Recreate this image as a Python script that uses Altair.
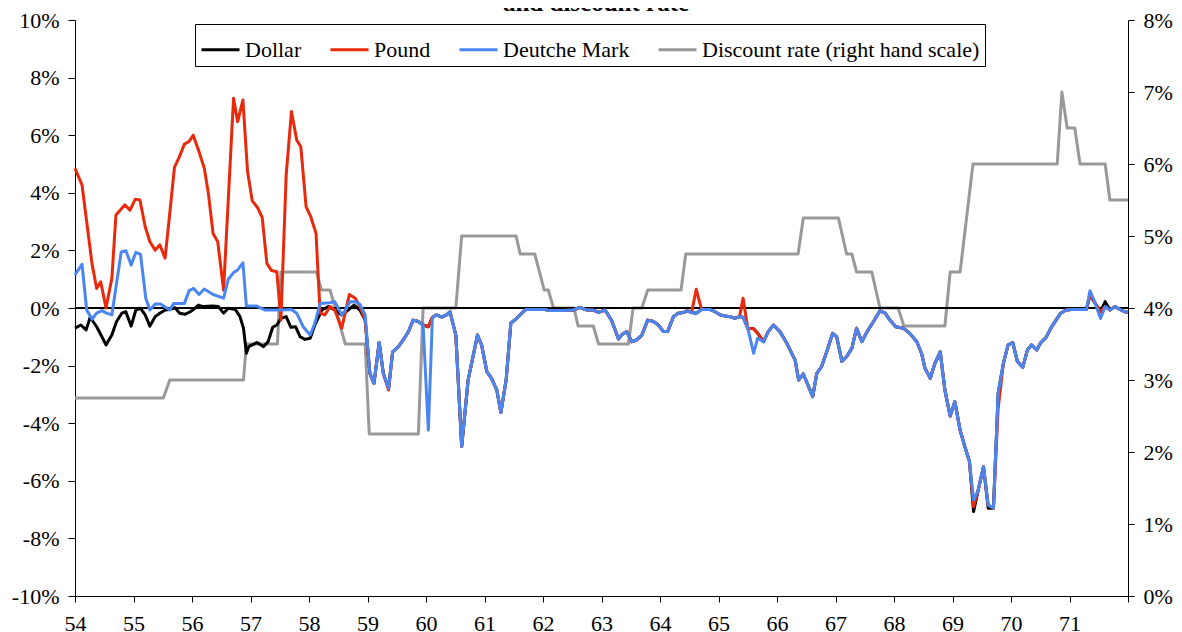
import altair as alt
import pandas as pd

SERIES = ["Dollar", "Pound", "Deutche Mark", "Discount rate (right hand scale)"]
COLORS = ["#000000", "#E8290B", "#4A86F2", "#999999"]

# ---- early period (1954-1958): the three currencies differ ----
dollar_early_t = [54.00, 54.10, 54.19, 54.26, 54.37, 54.46, 54.53, 54.63, 54.71, 54.80, 54.87, 54.96,
                  55.04, 55.12, 55.20, 55.28, 55.37, 55.45, 55.54, 55.62, 55.71, 55.79, 55.88, 55.97,
                  56.05, 56.11, 56.19, 56.36, 56.45, 56.54, 56.62, 56.74, 56.82, 56.88, 56.93, 56.97,
                  57.11, 57.22, 57.30, 57.38, 57.45, 57.52, 57.61, 57.69, 57.77, 57.85, 57.93, 58.02,
                  58.10, 58.22, 58.33, 58.44, 58.56, 58.67, 58.77, 58.87, 58.96]
dollar_early_v = [-0.70, -0.59, -0.76, -0.32, -0.65, -1.00, -1.28, -0.94, -0.47, -0.18, -0.13, -0.63,
                  -0.07, -0.01, -0.24, -0.63, -0.30, -0.18, -0.07, -0.05, 0.01, -0.18, -0.22, -0.13,
                  -0.01, 0.10, 0.05, 0.07, 0.05, -0.18, -0.01, -0.05, -0.30, -0.70, -1.57, -1.34,
                  -1.20, -1.34, -1.17, -0.67, -0.59, -0.36, -0.30, -0.67, -0.65, -1.00, -1.09, -1.05,
                  -0.59, -0.07, 0.05, -0.07, -0.24, -0.07, 0.10, -0.07, -0.42]

pound_early_t = [54.00, 54.12, 54.29, 54.37, 54.44, 54.53, 54.63, 54.70, 54.85, 54.94, 55.03, 55.11,
                 55.20, 55.28, 55.37, 55.45, 55.54, 55.62, 55.70, 55.78, 55.87, 55.95, 56.02, 56.11,
                 56.21, 56.28, 56.36, 56.44, 56.54, 56.71, 56.78, 56.87, 56.95, 57.03, 57.12, 57.20,
                 57.28, 57.36, 57.45, 57.52, 57.61, 57.70, 57.79, 57.86, 57.95, 58.03, 58.12, 58.19,
                 58.27, 58.36, 58.44, 58.56, 58.69, 58.79, 58.87, 58.96]
pound_early_v = [4.85, 4.27, 1.55, 0.68, 0.91, 0.00, 1.03, 3.23, 3.58, 3.40, 3.78, 3.75,
                 2.82, 2.30, 2.01, 2.19, 1.73, 3.29, 4.88, 5.23, 5.69, 5.78, 6.00, 5.49,
                 4.85, 3.98, 2.59, 2.30, 0.62, 7.28, 6.47, 7.22, 4.73, 3.72, 3.49, 3.15,
                 1.55, 1.30, 1.26, -0.42, 4.62, 6.82, 5.83, 5.60, 3.52, 3.17, 2.59, -0.18,
                 -0.24, 0.05, -0.07, -0.70, 0.47, 0.34, 0.05, -0.42]

dm_early_t = [54.00, 54.12, 54.20, 54.29, 54.37, 54.46, 54.54, 54.63, 54.79, 54.87, 54.96, 55.04,
              55.12, 55.21, 55.28, 55.37, 55.46, 55.62, 55.69, 55.87, 55.95, 56.03, 56.12, 56.21,
              56.36, 56.54, 56.62, 56.71, 56.78, 56.87, 56.93, 57.11, 57.16, 57.25, 57.53, 57.70,
              57.79, 57.90, 58.02, 58.10, 58.19, 58.36, 58.44, 58.56, 58.62, 58.70, 58.79, 58.87,
              58.96]
dm_early_v = [1.15, 1.52, -0.07, -0.39, -0.18, -0.09, -0.18, -0.24, 1.95, 1.99, 1.49, 1.93,
              1.86, 0.34, -0.07, 0.14, 0.14, -0.07, 0.16, 0.16, 0.60, 0.68, 0.47, 0.66,
              0.47, 0.34, 1.00, 1.23, 1.32, 1.57, 0.07, 0.07, 0.01, -0.07, -0.07, -0.05,
              -0.18, -0.65, -0.94, -0.53, 0.16, 0.18, 0.22, -0.24, -0.07, 0.22, 0.22, 0.13,
              -0.24]

# ---- 1959-1971: the three currencies almost coincide ----
common_t = [59.04, 59.11, 59.20, 59.27, 59.36, 59.43, 59.53, 59.61, 59.70, 59.78, 59.87, 59.95,
            60.04, 60.11, 60.18, 60.27, 60.35, 60.41, 60.51, 60.61, 60.72, 60.88, 60.95, 61.04,
            61.12, 61.21, 61.28, 61.37, 61.45, 61.55, 61.64, 61.71, 62.03, 62.12, 62.35, 62.52,
            62.63, 62.75, 62.86, 62.95, 63.06, 63.17, 63.29, 63.34, 63.43, 63.52, 63.60, 63.69,
            63.79, 63.89, 63.97, 64.06, 64.13, 64.23, 64.31, 64.40, 64.47, 64.54, 64.62, 64.71,
            64.85, 64.94, 65.03, 65.11, 65.20, 65.28, 65.36, 65.42, 65.50, 65.60, 65.67, 65.77,
            65.85, 65.94, 66.05, 66.17, 66.25, 66.31, 66.37, 66.45, 66.54, 66.61, 66.68, 66.76,
            66.85, 66.95, 67.02, 67.11, 67.19, 67.28, 67.36, 67.45, 67.54, 67.65, 67.76, 67.85,
            67.93, 68.03, 68.16, 68.27, 68.39, 68.47, 68.53, 68.62, 68.70, 68.79, 68.87, 68.96,
            69.04, 69.13, 69.21, 69.29, 69.36, 69.44, 69.53, 69.61, 69.70, 69.78, 69.87, 69.95,
            70.03, 70.11, 70.20, 70.28, 70.35, 70.44, 70.51, 70.60, 70.68, 70.77, 70.85, 70.94,
            71.04, 71.29, 71.35, 71.44, 71.53, 71.61, 71.69, 71.78, 71.86, 71.94, 72.00]
common_v = [-2.27, -2.62, -1.20, -2.27, -2.79, -1.52, -1.34, -1.11, -0.82, -0.42, -0.47, -0.59,
            -0.65, -0.32, -0.24, -0.32, -0.24, -0.13, -0.94, -4.81, -2.50, -0.94, -1.28, -2.21,
            -2.44, -2.85, -3.63, -2.50, -0.53, -0.36, -0.18, -0.05, -0.05, -0.09, -0.09, -0.07,
            0.02, -0.07, -0.07, -0.15, -0.07, -0.42, -1.08, -0.94, -0.82, -1.17, -1.11, -0.94,
            -0.42, -0.47, -0.59, -0.82, -0.82, -0.30, -0.18, -0.16, -0.09, -0.16, -0.18, -0.05,
            -0.05, -0.13, -0.24, -0.28, -0.30, -0.36, -0.30, -0.32, -0.70, -0.72, -0.88, -1.17,
            -0.82, -0.59, -0.82, -1.23, -1.57, -1.81, -2.50, -2.29, -2.73, -3.08, -2.27, -2.04,
            -1.52, -0.88, -1.00, -1.86, -1.69, -1.40, -0.70, -1.17, -0.82, -0.47, -0.10, -0.18,
            -0.42, -0.65, -0.70, -0.88, -1.17, -1.57, -2.09, -2.44, -1.92, -1.52, -2.85, -3.75,
            -3.25, -4.24, -4.81, -5.33, -6.67, -6.32, -5.51, -6.84, -6.95, -2.96, -1.92, -1.28,
            -1.20, -1.86, -2.06, -1.46, -1.28, -1.46, -1.20, -1.02, -0.70, -0.42, -0.18, -0.07,
            -0.05, -0.05, 0.45, 0.16, -0.13, 0.05, -0.07, 0.05, -0.05, -0.13, -0.15]

# currency-specific departures from the common path (time, value)
dollar_dev = [(69.36, -7.07), (69.61, -6.95), (71.61, 0.22)]
pound_dev = [(59.36, -2.85), (64.62, 0.65), (65.42, 0.34), (69.36, -6.90), (69.78, -3.50)]
dm_dev = [(60.04, -4.24), (65.60, -1.57), (65.67, -1.05), (71.35, 0.60), (71.53, -0.36)]

# ---- discount rate (right hand scale) ----
disc_t = [54.00, 55.51, 55.62, 56.88, 56.93, 57.46, 57.52, 58.13, 58.21, 58.36, 58.62, 58.96,
          59.03, 59.87, 59.95, 60.51, 60.61, 61.54, 61.61, 61.86, 62.02, 62.09, 62.18, 62.53,
          62.60, 62.86, 62.95, 63.46, 63.54, 63.69, 63.79, 64.36, 64.44, 66.36, 66.45, 67.05,
          67.19, 67.28, 67.36, 67.62, 67.76, 68.07, 68.17, 68.87, 68.96, 69.13, 69.35, 70.79,
          70.87, 70.96, 71.09, 71.18, 71.61, 71.69, 72.00]
disc_v = [2.75, 2.75, 3.00, 3.00, 3.50, 3.50, 4.50, 4.50, 4.25, 4.25, 3.50, 3.50,
          2.25, 2.25, 4.00, 4.00, 5.00, 5.00, 4.75, 4.75, 4.25, 4.25, 4.00, 4.00,
          3.75, 3.75, 3.50, 3.50, 4.00, 4.00, 4.25, 4.25, 4.75, 4.75, 5.25, 5.25,
          4.75, 4.75, 4.50, 4.50, 4.00, 4.00, 3.75, 3.75, 4.50, 4.50, 6.00, 6.00,
          7.00, 6.50, 6.50, 6.00, 6.00, 5.50, 5.50]

left_ticks = [-10, -8, -6, -4, -2, 0, 2, 4, 6, 8, 10]
right_ticks = [0, 1, 2, 3, 4, 5, 6, 7, 8]
year_ticks = list(range(54, 73))
TITLE = "and discount rate"
FONT = "Liberation Serif"


def build(name, early_t, early_v, dev):
    d = {round(t, 2): v for t, v in dev}
    t = list(early_t) + list(common_t)
    v = list(early_v) + [d.get(round(tt, 2), vv) for tt, vv in zip(common_t, common_v)]
    return pd.DataFrame({"t": t, "v": v, "series": name})


df_dollar = build(SERIES[0], dollar_early_t, dollar_early_v, dollar_dev)
df_pound = build(SERIES[1], pound_early_t, pound_early_v, pound_dev)
df_dm = build(SERIES[2], dm_early_t, dm_early_v, dm_dev)
df_disc = pd.DataFrame({"t": disc_t, "v": disc_v, "series": SERIES[3]})
df_zero = pd.DataFrame({"v": [0]})
df_title = pd.DataFrame({"label": [TITLE]})

x_enc = alt.X(
    "t:Q",
    scale=alt.Scale(domain=[54, 72], nice=False, zero=False),
    axis=alt.Axis(values=year_ticks, labelExpr="datum.value < 72 ? datum.value : ''",
                  title=None, grid=False, tickSize=6, labelPadding=11, labelFlush=False),
)

color_enc = alt.Color(
    "series:N",
    scale=alt.Scale(domain=SERIES, range=COLORS),
    legend=alt.Legend(
        title=None, orient="none", legendX=120, legendY=4, direction="horizontal", columns=4,
        symbolType="stroke", symbolSize=1444, symbolStrokeWidth=3, labelFont=FONT,
        labelFontSize=22, labelColor="black", strokeColor="black", fillColor="white",
        padding=5, columnPadding=22, labelOffset=4, labelLimit=500,
    ),
)

y_left = alt.Y(
    "v:Q",
    scale=alt.Scale(domain=[-10, 10], nice=False, zero=False),
    axis=alt.Axis(values=left_ticks, labelExpr="datum.value + '%'", title=None, grid=False,
                  orient="left", tickSize=7, labelPadding=9),
)
y_right = alt.Y(
    "v:Q",
    scale=alt.Scale(domain=[0, 8], nice=False, zero=False),
    axis=alt.Axis(values=right_ticks, labelExpr="datum.value + '%'", title=None, grid=False,
                  orient="right", tickSize=6, labelPadding=9),
)

line_kw = dict(strokeWidth=3, strokeJoin="round")

discount = alt.Chart(df_disc).mark_line(**line_kw).encode(x=x_enc, y=y_right, color=color_enc)

zero = alt.Chart(df_zero).mark_rule(color="black", strokeWidth=2).encode(y=y_left)
dollar = alt.Chart(df_dollar).mark_line(**line_kw).encode(x=x_enc, y=y_left, color=color_enc)
pound = alt.Chart(df_pound).mark_line(**line_kw).encode(x=x_enc, y=y_left, color=color_enc)
dm = alt.Chart(df_dm).mark_line(**line_kw).encode(x=x_enc, y=y_left, color=color_enc)
currencies = alt.layer(zero, dollar, pound, dm)

title = alt.Chart(df_title).mark_text(
    font=FONT, fontSize=25, fontWeight="bold", color="black", align="center", baseline="alphabetic"
).encode(text="label:N", x=alt.value(521), y=alt.value(-9))

chart = (
    alt.layer(discount, currencies, title)
    .resolve_scale(y="independent")
    .properties(
        width=1053, height=576,
        padding={"left": 67, "top": 12, "right": 46, "bottom": 40},
        autosize=alt.AutoSizeParams(type="none"),
    )
    .configure_view(strokeWidth=0)
    .configure_axis(labelFont=FONT, labelFontSize=22, labelColor="black", domainColor="black",
                    tickColor="black", domainWidth=1, tickWidth=1)
)

chart.save("out.html", embed_options={"renderer": "svg", "actions": False})
